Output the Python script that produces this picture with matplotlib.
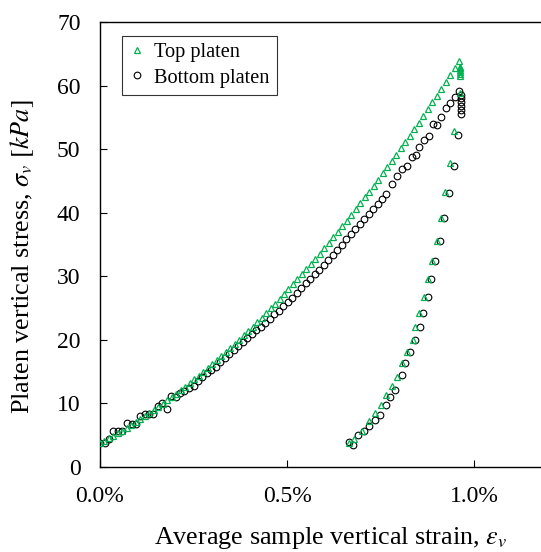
import matplotlib
matplotlib.use("Agg")
import matplotlib.pyplot as plt
from matplotlib.ticker import FuncFormatter

# ---- data (strain in %, stress in kPa) ----
top_load_strain = [0.000, 0.012, 0.024, 0.036, 0.048, 0.060, 0.072, 0.084, 0.096, 0.108,
                   0.120, 0.132, 0.144, 0.156, 0.168, 0.180, 0.192, 0.204, 0.216, 0.228,
                   0.240, 0.252, 0.264, 0.276, 0.288, 0.300, 0.312, 0.324, 0.336, 0.348,
                   0.360, 0.372, 0.384, 0.396, 0.408, 0.420, 0.432, 0.444, 0.456, 0.468,
                   0.480, 0.492, 0.504, 0.516, 0.528, 0.540, 0.552, 0.564, 0.576, 0.588,
                   0.600, 0.612, 0.624, 0.636, 0.648, 0.660, 0.672, 0.684, 0.696, 0.708,
                   0.720, 0.732, 0.744, 0.756, 0.768, 0.780, 0.792, 0.804, 0.816, 0.828,
                   0.840, 0.852, 0.864, 0.876, 0.888, 0.900, 0.912, 0.924, 0.936, 0.948,
                   0.960]
top_load_stress = [3.70, 4.09, 4.49, 4.89, 5.31, 5.74, 6.17, 6.61, 7.07, 7.53,
                   8.00, 8.48, 8.97, 9.47, 9.98, 10.50, 11.02, 11.56, 12.11, 12.66,
                   13.22, 13.80, 14.38, 14.97, 15.57, 16.18, 16.80, 17.43, 18.06, 18.71,
                   19.37, 20.03, 20.71, 21.39, 22.08, 22.78, 23.50, 24.22, 24.95, 25.68,
                   26.43, 27.19, 27.96, 28.73, 29.52, 30.31, 31.11, 31.93, 32.75, 33.58,
                   34.42, 35.27, 36.13, 37.00, 37.87, 38.76, 39.66, 40.56, 41.47, 42.40,
                   43.33, 44.27, 45.22, 46.18, 47.15, 48.13, 49.12, 50.11, 51.12, 52.14,
                   53.16, 54.19, 55.24, 56.29, 57.35, 58.42, 59.50, 60.59, 61.69, 62.80,
                   63.91]
top_peak_strain = [0.963, 0.963, 0.963, 0.963, 0.963, 0.963, 0.962]
top_peak_stress = [63.0, 62.7, 62.4, 62.1, 61.8, 61.5, 58.8]
top_unload_strain = [0.947, 0.936, 0.922, 0.913, 0.902, 0.889, 0.878, 0.866, 0.854, 0.843,
                     0.836, 0.820, 0.807, 0.794, 0.780, 0.765, 0.750, 0.735, 0.720, 0.700,
                     0.680, 0.665]
top_unload_stress = [52.9, 47.8, 43.2, 39.2, 35.6, 32.4, 29.5, 26.8, 24.2, 22.1,
                     20.0, 18.1, 16.3, 14.2, 12.7, 11.3, 9.8, 8.5, 7.2, 5.7,
                     4.4, 3.7]

bot_load_strain = [0.000, 0.013, 0.025, 0.036, 0.049, 0.060, 0.071, 0.085, 0.096, 0.107,
                   0.119, 0.130, 0.143, 0.156, 0.166, 0.178, 0.191, 0.203, 0.214, 0.225,
                   0.238, 0.250, 0.262, 0.274, 0.286, 0.298, 0.310, 0.322, 0.334, 0.346,
                   0.358, 0.370, 0.382, 0.394, 0.406, 0.418, 0.430, 0.442, 0.454, 0.466,
                   0.478, 0.490, 0.502, 0.514, 0.526, 0.538, 0.550, 0.562, 0.574, 0.586,
                   0.598, 0.610, 0.622, 0.634, 0.646, 0.658, 0.670, 0.682, 0.694, 0.706,
                   0.718, 0.730, 0.742, 0.754, 0.766, 0.780, 0.795, 0.808, 0.820, 0.833,
                   0.845, 0.854, 0.867, 0.880, 0.891, 0.902, 0.913, 0.924, 0.936, 0.948]
bot_load_stress = [3.7, 3.8, 4.4, 5.7, 5.7, 5.7, 6.9, 6.8, 6.7, 8.0,
                   8.3, 8.4, 8.3, 9.6, 10.1, 9.1, 11.1, 11.0, 11.6, 12.0,
                   12.5, 12.7, 13.6, 14.1, 14.8, 15.3, 15.8, 16.5, 17.1, 17.8,
                   18.4, 19.1, 19.7, 20.3, 20.9, 21.5, 22.1, 22.7, 23.3, 24.0,
                   24.6, 25.3, 25.9, 26.6, 27.4, 28.1, 28.9, 29.6, 30.3, 31.0,
                   31.8, 32.6, 33.4, 34.2, 35.0, 35.8, 36.6, 37.4, 38.2, 39.0,
                   39.8, 40.6, 41.4, 42.2, 43.0, 44.5, 45.7, 46.8, 47.3, 48.8,
                   49.1, 50.4, 51.4, 52.0, 54.0, 53.8, 55.1, 56.4, 57.2, 58.2]
bot_peak_strain = [0.961, 0.966, 0.966, 0.966, 0.966, 0.966, 0.966]
bot_peak_stress = [59.2, 58.5, 58.0, 57.4, 56.8, 56.2, 55.6]
bot_unload_strain = [0.957, 0.946, 0.933, 0.919, 0.909, 0.897, 0.886, 0.876, 0.864, 0.855,
                     0.841, 0.830, 0.815, 0.807, 0.790, 0.775, 0.765, 0.748, 0.735, 0.720,
                     0.705, 0.690, 0.676, 0.666]
bot_unload_stress = [52.2, 47.4, 43.1, 39.2, 35.6, 32.4, 29.6, 26.8, 24.2, 22.1,
                     20.0, 18.1, 16.3, 14.5, 12.1, 11.0, 9.7, 8.2, 7.4, 6.4,
                     5.6, 5.0, 3.4, 3.9]

x_ticks = [0.0, 0.5, 1.0]
y_ticks = [0, 10, 20, 30, 40, 50, 60, 70]

green = "#00b050"

plt.rcParams['font.family'] = ['Liberation Serif', 'DejaVu Serif']
plt.rcParams['mathtext.fontset'] = 'stix'

fig = plt.figure(figsize=(5.41, 5.52), dpi=100)
ax = fig.add_axes([100 / 541, 85 / 552, 448.8 / 541, 445 / 552])

top_x = top_load_strain + top_peak_strain + top_unload_strain
top_y = top_load_stress + top_peak_stress + top_unload_stress
bot_x = bot_load_strain + bot_peak_strain + bot_unload_strain
bot_y = bot_load_stress + bot_peak_stress + bot_unload_stress

ax.plot(top_x, top_y, linestyle='none', marker='^', markersize=4.5,
        markerfacecolor='none', markeredgecolor=green, markeredgewidth=0.9,
        label='Top platen', zorder=3)
ax.plot(bot_x, bot_y, linestyle='none', marker='o', markersize=4.8,
        markerfacecolor='none', markeredgecolor='black', markeredgewidth=0.8,
        label='Bottom platen', zorder=2)

ax.set_xlim(0, 1.2)
ax.set_ylim(0, 70)
ax.set_xticks(x_ticks)
ax.set_yticks(y_ticks)
ax.xaxis.set_major_formatter(FuncFormatter(lambda v, p: f"{v:.1f}%"))
ax.tick_params(axis='both', direction='in', length=5, width=0.8, labelsize=17)
ax.tick_params(axis='x', pad=14)
ax.tick_params(axis='y', pad=14)
for s in ax.spines.values():
    s.set_linewidth(1.0)

ax.set_ylabel(r"Platen vertical stress, $\sigma_v$ $[kPa]$", fontsize=18.8)
ax.yaxis.set_label_coords(-64 / 448.8, 0.5 - 12 / 445)
ax.set_xlabel(r"Average sample vertical strain, $\varepsilon_v$", fontsize=18.8)
ax.xaxis.set_label_coords(230 / 448.8, -58 / 445)

leg = ax.legend(loc='upper left', bbox_to_anchor=(22 / 448.8, 1 - 14 / 445),
                frameon=True, fancybox=False, edgecolor='black', fontsize=14.6,
                handlelength=0.8, handletextpad=0.45, borderpad=0.35,
                labelspacing=0.3, borderaxespad=0)
leg.get_frame().set_linewidth(0.8)

fig.savefig("out.png", dpi=100)
